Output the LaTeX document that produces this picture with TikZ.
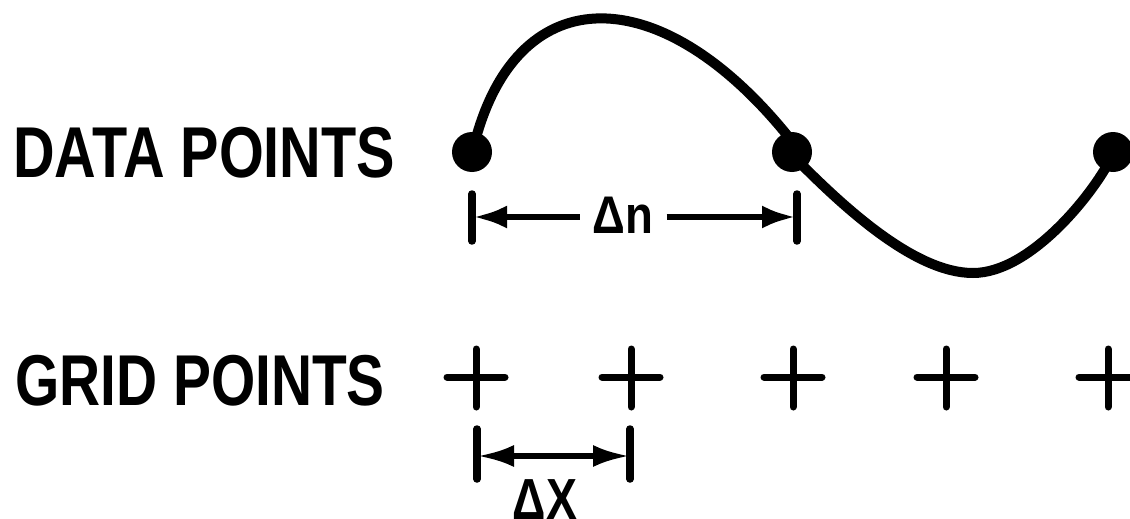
\documentclass[tikz,border=0pt]{standalone}
\usepackage{fontspec}
\setmainfont{Liberation Sans}
\usetikzlibrary{arrows.meta,shapes.geometric}
\begin{document}
\begin{tikzpicture}[x=1pt,y=-1pt,
  lbl/.style={font=\fontsize{72}{76}\selectfont\bfseries, anchor=base west, inner sep=0pt},
  curve/.style={line width=10pt, line cap=round},
  dot/.style={circle, fill=black, minimum size=40pt, inner sep=0pt},
  gp/.style={line width=7pt, line cap=round},
  bar/.style={line width=7.5pt, line cap=round},
  arr/.style={line width=6.5pt, -{Latex[length=34pt,width=23pt]}},
  dimarr/.style={line width=5.5pt, {Latex[length=36pt,width=22pt]}-{Latex[length=36pt,width=22pt]}}
]
\useasboundingbox (0,0) rectangle (1130,519);
% labels
\node[lbl] (dl) at (13,177) {\scalebox{0.8}[1]{DATA POINTS}};
\node[lbl] (gl) at (15,405) {\scalebox{0.79}[1]{GRID POINTS}};
% data points
\node[dot] (d1) at (472,152) {};
\node[dot] (d2) at (792,152) {};
\node[dot] (d3) at (1113,152) {};
% curve
\draw[curve] (d1.center) ++(4,-14) .. controls (520,-21) and (660,-21) .. (787,135)
  -- (792,152) ++(8,11) .. controls (845,208) and (915,273) .. (973,273)
  .. controls (1030,273) and (1092,195) .. (1110,160);
% delta n
\draw[bar] (472,194) -- (472,241);
\draw[bar] (797,194) -- (797,241);
\node[font=\fontsize{53}{56}\selectfont\bfseries, anchor=base, inner sep=0pt] (dn) at (623,233) {\scalebox{0.86}[1]{Δn}};
\coordinate (n1m) at (473,217); \coordinate (n2m) at (796,217);
\draw[arr] (dn.west |- n1m) ++(-13,0) -- (n1m);
\draw[arr] (dn.east |- n2m) ++(13,0) -- (n2m);
% grid points
\foreach \i/\x in {1/476,2/631,3/793,4/946,5/1108}{
  \coordinate (g\i) at (\x,377);
  \draw[gp] (\x-29,377) -- (\x+29,377);
  \draw[gp] (\x,349) -- (\x,407);
}
% delta x
\draw[bar] (477,429) -- (477,479);
\draw[bar] (630,429) -- (630,479);
\coordinate (x1m) at (478,456); \coordinate (x2m) at (629,456);
\draw[dimarr] (x1m) -- (x2m);
\node[font=\fontsize{58}{60}\selectfont\bfseries, anchor=base, inner sep=0pt] (dx) at (545,519) {\scalebox{0.8}[1]{ΔX}};
\end{tikzpicture}
\end{document}
